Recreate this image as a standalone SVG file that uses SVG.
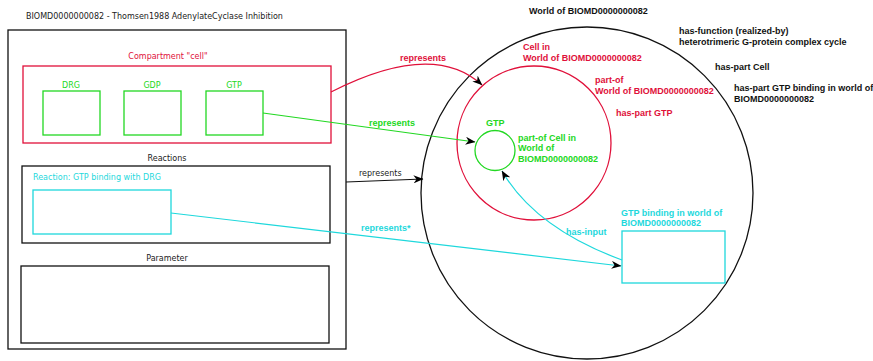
<svg xmlns="http://www.w3.org/2000/svg" width="873" height="361" viewBox="0 0 873 361">
<style>
.lbl{font-family:"DejaVu Sans",sans-serif;font-size:8px;fill:#222}
.b{font-family:"Liberation Sans",Arial,sans-serif;font-size:9px;font-weight:bold}
.red{fill:#e0103a}.grn{fill:#22d822}.cyn{fill:#1ed8dc}.blk{fill:#111}
.box{fill:none;stroke-width:1.3}
.sk{stroke:#111}.sr{stroke:#e0103a}.sg{stroke:#22d822}.sc{stroke:#1ed8dc}
.con{fill:none;stroke-width:1.2;marker-end:url(#arr)}
</style>
<defs>
<marker id="arr" viewBox="0 0 10 8" refX="9.5" refY="4" markerWidth="10" markerHeight="8" markerUnits="userSpaceOnUse" orient="auto">
<path d="M10,4 L0,0 L3,4 L0,8 Z" fill="#000"/>
</marker>
</defs>
<rect width="873" height="361" fill="#fff"/>

<text class="lbl" x="26" y="19">BIOMD0000000082 - Thomsen1988 AdenylateCyclase Inhibition</text>
<g id="model">
<rect class="box sk" x="8" y="30" width="338" height="319"/>
</g>
<g id="compartment">
<text class="lbl" x="168" y="59" text-anchor="middle" style="fill:#e0103a">Compartment "cell"</text>
<rect class="box sr" x="23" y="66" width="308" height="77"/>
</g>
<g id="drg">
<text class="lbl" x="71" y="88" text-anchor="middle" style="fill:#22d822">DRG</text>
<rect class="box sg" x="43" y="91" width="57" height="44"/>
</g>
<g id="gdp">
<text class="lbl" x="152" y="88" text-anchor="middle" style="fill:#22d822">GDP</text>
<rect class="box sg" x="124" y="91" width="57" height="44"/>
</g>
<g id="gtp">
<text class="lbl" x="234" y="88" text-anchor="middle" style="fill:#22d822">GTP</text>
<rect class="box sg" x="206" y="91" width="57" height="44"/>
</g>
<g id="reactions">
<text class="lbl" x="167" y="161" text-anchor="middle">Reactions</text>
<rect class="box sk" x="22" y="166" width="308" height="77"/>
</g>
<g id="reaction-gtp-binding">
<text class="lbl" x="33" y="180" style="fill:#1ed8dc">Reaction: GTP binding with DRG</text>
<rect class="box sc" x="33" y="190" width="138" height="44"/>
</g>
<g id="parameter">
<text class="lbl" x="167" y="261" text-anchor="middle">Parameter</text>
<rect class="box sk" x="21" y="266" width="308" height="77"/>
</g>

<g id="world">
<circle class="box sk" cx="587" cy="193" r="166"/>
<text class="b blk" x="529" y="14">World of BIOMD0000000082</text>
<text class="b blk" x="679" y="34">has-function (realized-by)</text>
<text class="b blk" x="679" y="45">heterotrimeric G-protein complex cycle</text>
<text class="b blk" x="715" y="70">has-part Cell</text>
<text class="b blk" x="734" y="91">has-part GTP binding in world of</text>
<text class="b blk" x="734" y="102">BIOMD0000000082</text>
</g>
<g id="cell">
<circle class="box sr" cx="534" cy="143" r="77"/>
<text class="b red" x="523" y="50">Cell in</text>
<text class="b red" x="523" y="61">World of BIOMD0000000082</text>
<text class="b red" x="595" y="83">part-of</text>
<text class="b red" x="595" y="94">World of BIOMD0000000082</text>
<text class="b red" x="616" y="116">has-part GTP</text>
</g>
<g id="gtp-world">
<circle class="box sg" cx="495" cy="150.5" r="20"/>
<text class="b grn" x="486" y="126">GTP</text>
<text class="b grn" x="518" y="141">part-of Cell in</text>
<text class="b grn" x="518" y="151">World of</text>
<text class="b grn" x="518" y="162">BIOMD0000000082</text>
</g>
<g id="gtp-binding-world">
<rect class="box sc" x="622" y="231" width="103" height="52"/>
<text class="b cyn" x="621" y="216">GTP binding in world of</text>
<text class="b cyn" x="621" y="226">BIOMD0000000082</text>
</g>

<g id="connectors">
<path class="con sr" d="M331,92 Q433,40 482,85"/>
<text class="b red" x="400" y="61">represents</text>
<path class="con sg" d="M263,113 L475,142"/>
<text class="b grn" x="369" y="126">represents</text>
<path class="con sk" d="M346,182 L423,179"/>
<text class="lbl" x="359" y="176">represents</text>
<path class="con sc" d="M171,213 L621,266"/>
<text class="b cyn" x="361" y="231">represents*</text>
<path class="con sc" d="M622,260 Q535,228 502,171"/>
<text class="b cyn" x="566" y="235">has-input</text>
</g>
</svg>
